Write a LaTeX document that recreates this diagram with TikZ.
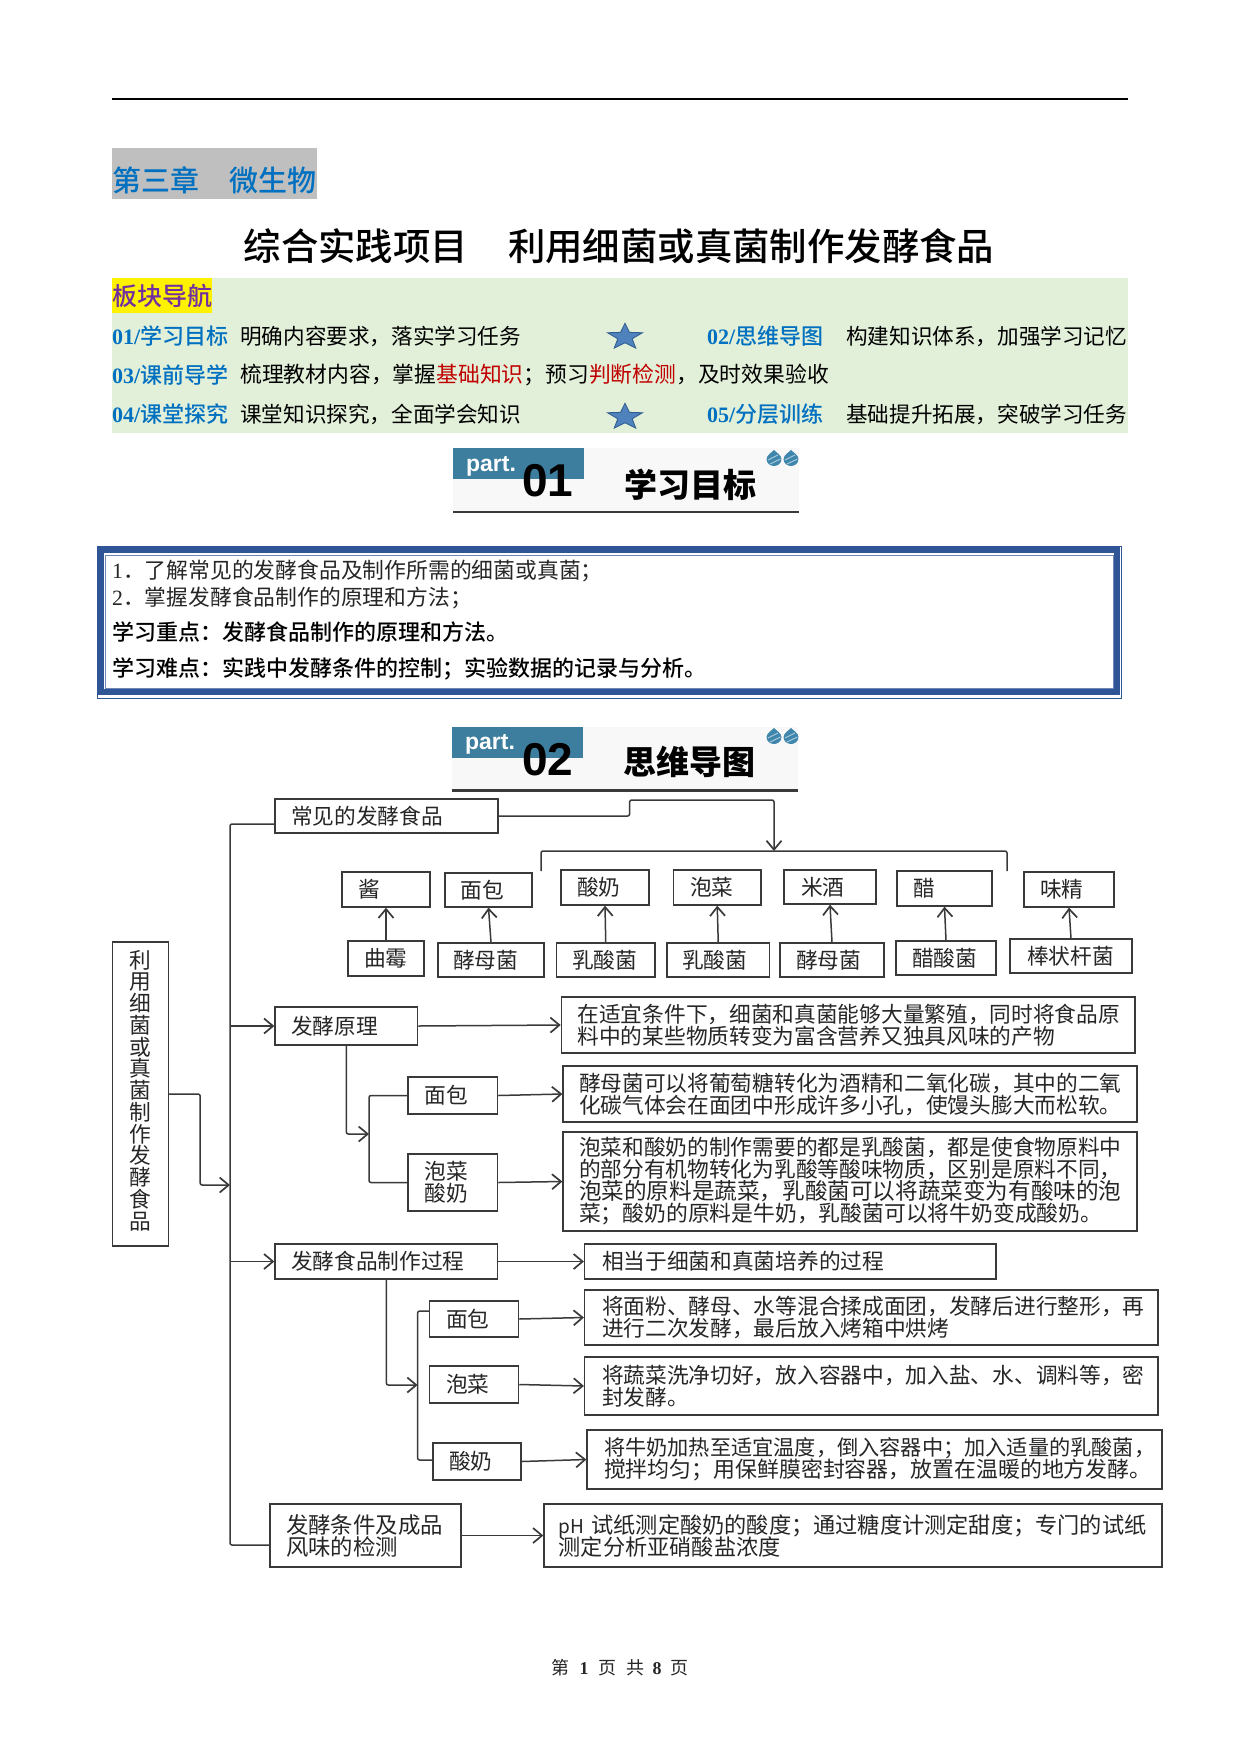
\documentclass[tikz,border=0pt]{standalone}
\usepackage{fontspec}
\setmainfont{Noto Sans CJK SC}
\newfontfamily\timesf{Liberation Serif}
\newfontfamily\headsans{Liberation Sans}
\newfontfamily\medf{Noto Sans CJK SC Medium}
\newfontfamily\medlat{Liberation Serif}
\usetikzlibrary{arrows.meta}
\definecolor{chapblue}{HTML}{0070C0}
\definecolor{chapgray}{HTML}{BFBFBF}
\definecolor{navgreen}{HTML}{E2EFD9}
\definecolor{navpurple}{HTML}{7030A0}
\definecolor{navred}{HTML}{C00000}
\definecolor{starfill}{HTML}{4F81BD}
\definecolor{stardraw}{HTML}{2F5C8F}
\definecolor{teal}{HTML}{3D7E9E}
\definecolor{dropc}{HTML}{3F86AC}
\definecolor{partbg}{HTML}{F8F8F8}
\definecolor{frameblue}{HTML}{2F5597}
\definecolor{inkc}{HTML}{262626}
\definecolor{linec}{HTML}{3A3A3A}
\newcommand{\txtsize}[1]{\fontsize{#1}{22}\selectfont\lineskiplimit=-100pt\relax}
\tikzset{
  lbl/.style={anchor=west,inner sep=0pt,font=\txtsize{21.6}},
  bxstyle/.style={draw=linec,line width=1.3pt,inner ysep=0pt,align=left,text=inkc,font=\txtsize{21.7}},
  conn/.style={draw=linec,line width=1.5pt,rounded corners=2pt},
  arr/.style={conn,-{Straight Barb[length=9pt,width=15pt,line width=1.7pt]}},
  navhead/.style={lbl,text=chapblue,font=\txtsize{22}\medf},
  starmark/.pic={
    \filldraw[fill=starfill,draw=stardraw,line width=.8pt]
      (-90:18.4 and 13.8) -- (-54:7.6 and 5.8) -- (-18:18.4 and 13.8) -- (18:7.6 and 5.8)
      -- (54:18.4 and 13.8) -- (90:7.6 and 5.8) -- (126:18.4 and 13.8) -- (162:7.6 and 5.8)
      -- (198:18.4 and 13.8) -- (234:7.6 and 5.8) -- cycle;
  },
  dropmark/.pic={
    \fill[dropc] (0,-8) .. controls (1,-6.5) and (7.5,-3) .. (7.5,1) .. controls (7.5,5.5) and (3.5,8) .. (0,8)
      .. controls (-3.5,8) and (-7.5,5.5) .. (-7.5,1) .. controls (-7.5,-3) and (-1,-6.5) .. (0,-8) -- cycle;
    \draw[white,opacity=.55,line width=1pt] (-6,2) -- (4,-3) (-4,6) -- (6.5,1);
  }
}
\newcommand{\bxnode}[7]{%
  \pgfmathsetmacro{\bw}{#4-#2}\pgfmathsetmacro{\bh}{#5-#3}%
  \pgfmathsetmacro{\bcx}{(#2+#4)/2}\pgfmathsetmacro{\bcy}{(#3+#5)/2}%
  \pgfmathsetmacro{\bpad}{#6-#2}\pgfmathsetmacro{\btw}{\bw-2*\bpad}%
  \node[bxstyle,minimum width=\bw pt,minimum height=\bh pt,inner xsep=\bpad pt,text width=\btw pt] (#1) at (\bcx,\bcy) {#7};%
}
\begin{document}
\begin{tikzpicture}[x=1pt,y=-1pt]
\useasboundingbox (0,0) rectangle (1241,1754);
\fill[white] (0,0) rectangle (1241,1754);
% header rule
\draw[black,line width=1.6pt] (112,99) -- (1128,99);
% chapter
\fill[chapgray] (112,148) rectangle (317,199);
\node[lbl,text=chapblue,font=\txtsize{29}\medf] (chap) at (112,180) {第三章\hspace{30pt}微生物};
% title
\node[anchor=center,inner sep=0pt,font=\txtsize{37.4}\medf,text=black] (title) at (619,246) {综合实践项目\hspace{40pt}利用细菌或真菌制作发酵食品};
% navigation
\fill[navgreen] (112,278) rectangle (1128,433);
\fill[yellow] (112,278) rectangle (212,313);
\node[lbl,text=navpurple,font=\txtsize{25}\medf] (nav) at (112,296) {板块导航};
\node[navhead] (n1) at (112,336) {{\medlat\bfseries 01/}学习目标};
\node[lbl] (t1) at (240,336) {明确内容要求，落实学习任务};
\node[navhead] (n2) at (707,336) {{\medlat\bfseries 02/}思维导图};
\node[lbl] (t2) at (846,336) {构建知识体系，加强学习记忆};
\node[navhead] (n3) at (112,375) {{\medlat\bfseries 03/}课前导学};
\node[lbl,font=\txtsize{21.8}] (t3) at (240,375) {梳理教材内容，掌握\textcolor{navred}{基础知识}；预习\textcolor{navred}{判断检测}，及时效果验收};
\node[navhead] (n4) at (112,414) {{\medlat\bfseries 04/}课堂探究};
\node[lbl] (t4) at (240,414) {课堂知识探究，全面学会知识};
\node[navhead] (n5) at (707,414) {{\medlat\bfseries 05/}分层训练};
\node[lbl] (t5) at (846,414) {基础提升拓展，突破学习任务};
\pic at (625,337) {starmark};
\pic at (625,417) {starmark};
% part 01
\fill[partbg] (453,448) rectangle (799,512);
\fill[teal] (453,448) rectangle (584,479);
\node[anchor=center,inner sep=0pt,text=white,font=\fontsize{23}{24}\headsans\bfseries] (p1a) at (491,466) {part.};
\node[anchor=center,inner sep=0pt,text=black,font=\fontsize{46}{48}\headsans\bfseries] (p1b) at (548,481) {01};
\node[anchor=center,inner sep=0pt,text=black,font=\txtsize{33}\bfseries] (p1c) at (690,485) {学习目标};
\draw[linec,line width=2.5pt] (453,512) -- (799,512);
\pic at (774,458) {dropmark};
\pic at (791,458) {dropmark};
% objectives frame
\draw[frameblue,line width=.6pt] (97,546) rectangle (1121,698);
\draw[frameblue,line width=6pt] (100.5,549.5) rectangle (1117,692);
\draw[frameblue!70,line width=.7pt,fill=white] (105,555) rectangle (1113,688);
\node[lbl,font=\txtsize{21.8},text=inkc] (o1) at (112,571) {{\timesf 1}．了解常见的发酵食品及制作所需的细菌或真菌；};
\node[lbl,font=\txtsize{21.8},text=inkc] (o2) at (112,598) {{\timesf 2}．掌握发酵食品制作的原理和方法；};
\node[lbl,font=\txtsize{22}\medf,text=black] (o3) at (112,632) {学习重点：发酵食品制作的原理和方法。};
\node[lbl,font=\txtsize{22}\medf,text=black] (o4) at (112,669) {学习难点：实践中发酵条件的控制；实验数据的记录与分析。};
% part 02
\fill[partbg] (452,727) rectangle (798,790);
\fill[teal] (452,727) rectangle (583,758);
\node[anchor=center,inner sep=0pt,text=white,font=\fontsize{23}{24}\headsans\bfseries] (p2a) at (490,744) {part.};
\node[anchor=center,inner sep=0pt,text=black,font=\fontsize{46}{48}\headsans\bfseries] (p2b) at (548,760) {02};
\node[anchor=center,inner sep=0pt,text=black,font=\txtsize{33}\bfseries] (p2c) at (689,762) {思维导图};
\draw[linec,line width=2.5pt] (452,790.5) -- (798,790.5);
\pic at (774,736) {dropmark};
\pic at (791,736) {dropmark};
% root
\node[bxstyle,align=center,minimum width=56pt,minimum height=304pt,inner sep=0pt,text width=30pt] (root) at (140.5,1094) {利\\[-.25pt]用\\[-.25pt]细\\[-.25pt]菌\\[-.25pt]或\\[-.25pt]真\\[-.25pt]菌\\[-.25pt]制\\[-.25pt]作\\[-.25pt]发\\[-.25pt]酵\\[-.25pt]食\\[-.25pt]品\rule[-9pt]{0pt}{0pt}};
% common foods
\bxnode{cj}{275}{799}{498}{833}{291}{常见的发酵食品}
\bxnode{a1}{342}{872}{430}{907}{358}{\hspace{0pt}酱}
\bxnode{a2}{445}{873}{532}{907}{460.5}{面包}
\bxnode{a3}{561}{870}{649}{905}{577}{酸奶}
\bxnode{a4}{673.5}{870}{761}{905}{690}{泡菜}
\bxnode{a5}{784}{870}{876}{904}{801}{米酒}
\bxnode{a6}{897}{871}{992}{906}{913.5}{醋}
\bxnode{a7}{1024}{872}{1114}{907}{1040}{味精}
\bxnode{b1}{348}{941}{424}{976}{364}{曲霉}
\bxnode{b2}{438}{943}{544}{977}{453}{酵母菌}
\bxnode{b3}{556.5}{943}{655}{977}{572}{乳酸菌}
\bxnode{b4}{667}{943}{769.5}{977}{682}{乳酸菌}
\bxnode{b5}{780}{943}{884}{977}{796}{酵母菌}
\bxnode{b6}{896}{941}{996}{975}{912}{醋酸菌}
\bxnode{b7}{1010}{939}{1132}{973}{1027}{棒状杆菌}
\foreach \k in {1,...,7}{\draw[arr] (b\k.north) -- (a\k.south);}
\coordinate (bT) at (774,851);
\coordinate (bL) at (541,871);
\coordinate (bR) at (1007,871);
\draw[conn] (bL) |- (bT) -| (bR);
\draw[arr] (cj.east) -- ++(131,0) |- (774,800) -- (bT);
% principle
\bxnode{fy}{275}{1007}{417.6}{1045}{291}{发酵原理}
\bxnode{fyt}{561.4}{997}{1135}{1053}{577.5}{在适宜条件下，细菌和真菌能够大量繁殖，同时将食品原\\料中的某些物质转变为富含营养又独具风味的产物}
\bxnode{fm}{408}{1077}{497.6}{1114}{424.6}{面包}
\bxnode{fmt}{563}{1066}{1137}{1122}{579}{酵母菌可以将葡萄糖转化为酒精和二氧化碳，其中的二氧\\化碳气体会在面团中形成许多小孔，使馒头膨大而松软。}
\bxnode{fp}{408}{1154}{497.6}{1211}{424.6}{泡菜\\酸奶}
\bxnode{fpt}{563}{1132}{1137}{1231}{579}{泡菜和酸奶的制作需要的都是乳酸菌，都是使食物原料中\\的部分有机物转化为乳酸等酸味物质，区别是原料不同，\\\txtsize{22.6}泡菜的原料是蔬菜，乳酸菌可以将蔬菜变为有酸味的泡\\\txtsize{21.8}菜；酸奶的原料是牛奶，乳酸菌可以将牛奶变成酸奶。}
% process
\bxnode{gc}{275}{1244}{497.6}{1279}{291}{发酵食品制作过程}
\bxnode{gct}{584.6}{1244}{996}{1279}{602}{相当于细菌和真菌培养的过程}
\bxnode{gm}{429.5}{1301}{518.6}{1337}{446}{面包}
\bxnode{gmt}{584.6}{1290}{1158}{1345}{602}{将面粉、酵母、水等混合揉成面团，发酵后进行整形，再\\进行二次发酵，最后放入烤箱中烘烤}
\bxnode{gp}{429.5}{1366}{518.6}{1403}{446}{泡菜}
\bxnode{gpt}{584.6}{1357}{1158}{1415}{602}{将蔬菜洗净切好，放入容器中，加入盐、水、调料等，密\\封发酵。}
\bxnode{gs}{433}{1443}{521}{1480}{449}{酸奶}
\bxnode{gst}{587}{1430}{1162}{1489}{604}{\txtsize{21.2}将牛奶加热至适宜温度，倒入容器中；加入适量的乳酸菌，\\\txtsize{21.9}搅拌均匀；用保鲜膜密封容器，放置在温暖的地方发酵。}
% detection
\bxnode{tj}{270}{1504}{461}{1567}{286}{\txtsize{22.4}发酵条件及成品\\风味的检测}
\bxnode{tjt}{544}{1504}{1162}{1567}{558.6}{\txtsize{22.2}{\txtsize{19}pH}~试纸测定酸奶的酸度；通过糖度计测定甜度；专门的试纸\\测定分析亚硝酸盐浓度}
% trunk
\coordinate (tA) at (230,824);
\coordinate (tB) at (230,1545);
\coordinate (tM) at (230,1185);
\draw[conn] (cj.west |- tA) -- (tA) -- (tB) -- (tj.west |- tB);
\draw[arr] (root.east) -- ++(31,0) |- (tM);
\draw[arr] (tA |- fy.west) -- (fy.west);
\draw[arr] (tA |- gc.west) -- (gc.west);
% principle links
\coordinate (fyK) at (369,1134);
\draw[conn] (fm.west) -- (fyK |- fm.west) -- (fyK |- fp.west) -- (fp.west);
\draw[arr] (fy.south) |- (fyK);
\draw[arr] (fy.east) -- (fyt.west);
\draw[arr] (fm.east) -- (fmt.west);
\draw[arr] (fp.east) -- (fpt.west);
% process links
\coordinate (gcK) at (417.6,1385);
\coordinate (gm1) at (417.6,1311);
\coordinate (gs1) at (417.6,1460);
\draw[conn] (gm.west |- gm1) -- (gm1) -- (gs1) -- (gs.west |- gs1);
\draw[arr] (gc.south) |- (gcK);
\draw[arr] (gc.east) -- (gct.west);
\draw[arr] (gm.east) -- (gmt.west);
\draw[arr] (gp.east) -- (gpt.west);
\draw[arr] (gs.east) -- (gst.west);
\draw[arr] (tj.east) -- (tjt.west);
% footer
\node[anchor=center,inner sep=0pt,text=inkc,font=\txtsize{18}] (foot) at (620,1668) {第\hspace{10pt}{\timesf\bfseries 1}\hspace{10pt}页\hspace{10pt}共\hspace{8pt}{\timesf\bfseries 8}\hspace{9pt}页};
\end{tikzpicture}
\end{document}
